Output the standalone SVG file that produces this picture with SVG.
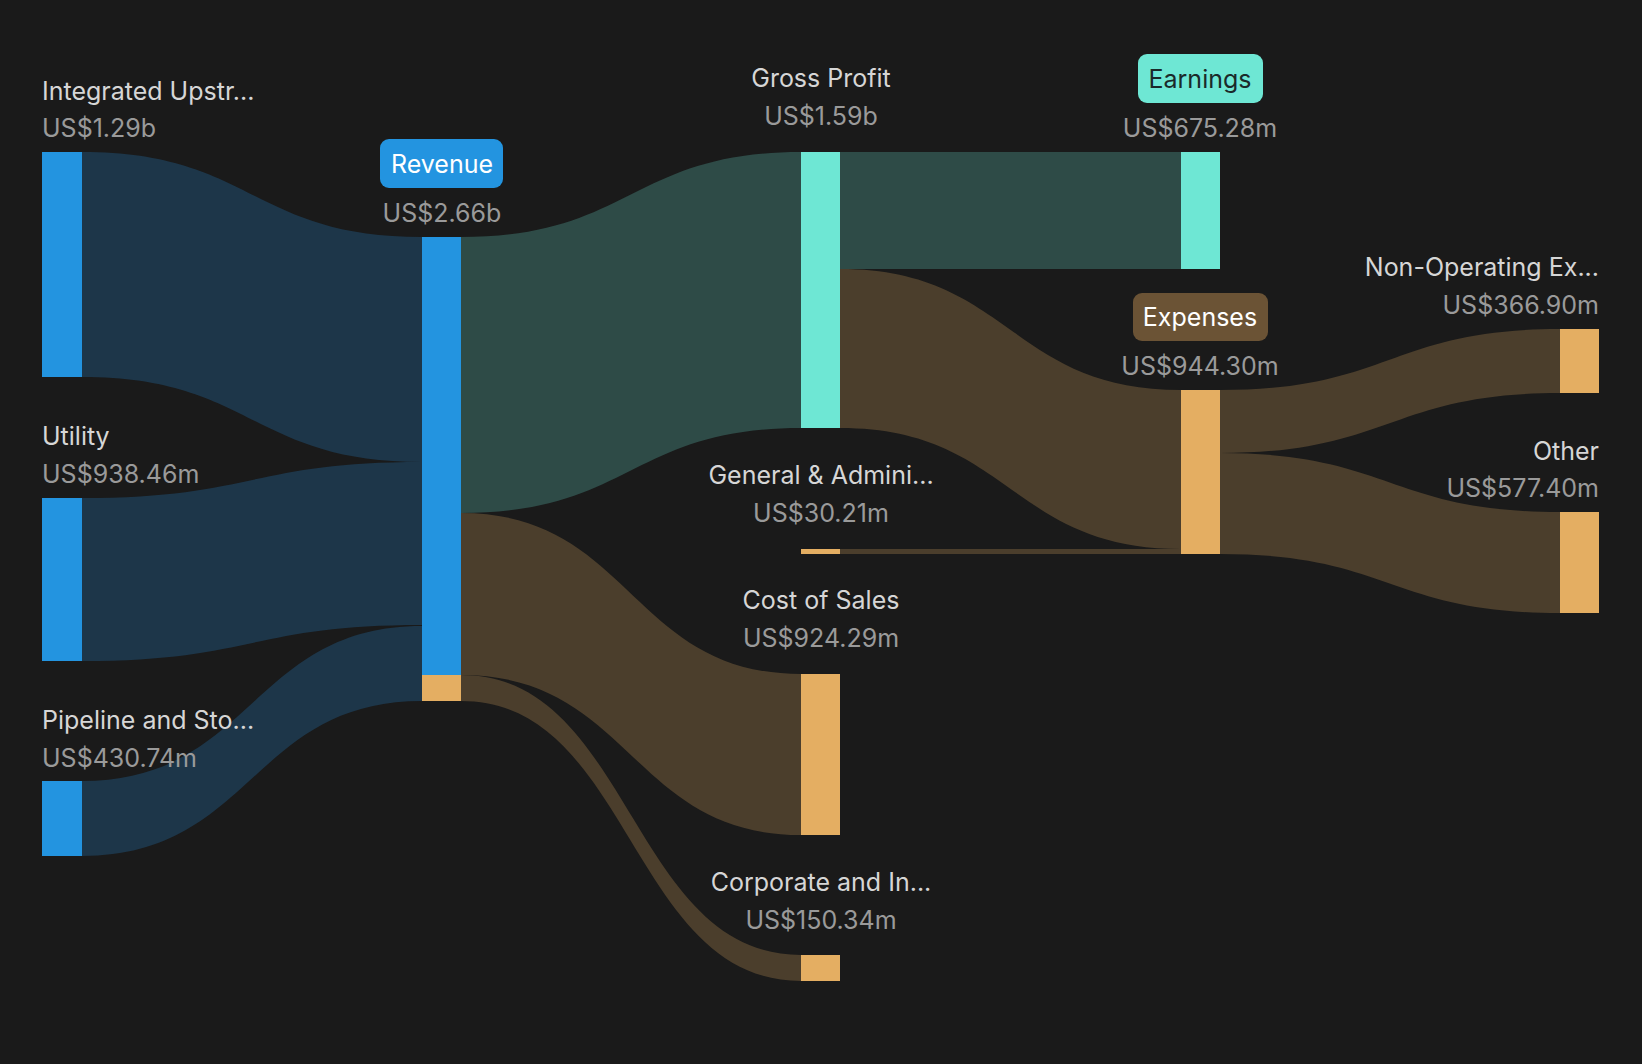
<svg xmlns="http://www.w3.org/2000/svg" width="1642" height="1064" viewBox="0 0 1642 1064">
<style>
text{font-family:Inter,"Liberation Sans",sans-serif;font-size:25px}
.n{fill:#d6d6d6}.v{fill:#9a9a9a}
.m{text-anchor:middle}.e{text-anchor:end}
.lb{fill:#1d3649}.lt{fill:#2e4b47}.lo{fill:#4b3e2c}
.b{fill:#2394e0}.t{fill:#6ee7d4}.o{fill:#e4ae62}
</style>
<rect width="1642" height="1064" fill="#1a1a1a"/>
<g id="links">
<path class="lb" d="M82,152 C252,152 252,237 422,237 L422,462 C252,462 252,377 82,377Z"/>
<path class="lb" d="M82,498 C252,498 252,462 422,462 L422,625 C252,625 252,661 82,661Z"/>
<path class="lb" d="M82,781 C252,781 252,626 422,626 L422,701 C252,701 252,856 82,856Z"/>
<path class="lt" d="M461,237 C631,237 631,152 801,152 L801,428 C631,428 631,513 461,513Z"/>
<path class="lo" d="M461,513 C631,513 631,674 801,674 L801,835 C631,835 631,675 461,675Z"/>
<path class="lo" d="M461,675 C631,675 631,955 801,955 L801,981 C631,981 631,701 461,701Z"/>
<path class="lt" d="M840,152 L1181,152 L1181,269 L840,269Z"/>
<path class="lo" d="M840,269 C1010,269 1010,390 1181,390 L1181,549 C1010,549 1010,428 840,428Z"/>
<path class="lo" d="M840,549 L1181,549 L1181,554 L840,554Z"/>
<path class="lo" d="M1220,390 C1390,390 1390,329 1560,329 L1560,393 C1390,393 1390,453 1220,453Z"/>
<path class="lo" d="M1220,453 C1390,453 1390,512 1560,512 L1560,613 C1390,613 1390,554 1220,554Z"/>
</g>
<g id="integrated"><rect class="b" x="42" y="152" width="40" height="225"/><text class="n" x="42" y="100">Integrated Upstr...</text><text class="v" x="42" y="137">US$1.29b</text></g>
<g id="utility"><rect class="b" x="42" y="498" width="40" height="163"/><text class="n" x="42" y="445">Utility</text><text class="v" x="42" y="483">US$938.46m</text></g>
<g id="pipeline"><rect class="b" x="42" y="781" width="40" height="75"/><text class="n" x="42" y="729">Pipeline and Sto...</text><text class="v" x="42" y="767">US$430.74m</text></g>
<g id="revenue"><rect class="b" x="422" y="237" width="39" height="438"/><rect class="o" x="422" y="675" width="39" height="26"/><rect x="380" y="139" width="123" height="49" rx="9" fill="#2394e0"/><text class="m" x="442" y="173" fill="#ffffff">Revenue</text><text class="v m" x="442" y="222">US$2.66b</text></g>
<g id="grossprofit"><rect class="t" x="801" y="152" width="39" height="276"/><text class="n m" x="821" y="87">Gross Profit</text><text class="v m" x="821" y="125">US$1.59b</text></g>
<g id="ga"><rect class="o" x="801" y="549" width="39" height="5"/><text class="n m" x="821" y="484">General &amp; Admini...</text><text class="v m" x="821" y="522">US$30.21m</text></g>
<g id="cos"><rect class="o" x="801" y="674" width="39" height="161"/><text class="n m" x="821" y="609">Cost of Sales</text><text class="v m" x="821" y="647">US$924.29m</text></g>
<g id="corporate"><rect class="o" x="801" y="955" width="39" height="26"/><text class="n m" x="821" y="891">Corporate and In...</text><text class="v m" x="821" y="929">US$150.34m</text></g>
<g id="earnings"><rect class="t" x="1181" y="152" width="39" height="117"/><rect x="1138" y="54" width="125" height="49" rx="9" fill="#6ee7d4"/><text class="m" x="1200" y="88" fill="#1a2a2a">Earnings</text><text class="v m" x="1200" y="137">US$675.28m</text></g>
<g id="expenses"><rect class="o" x="1181" y="390" width="39" height="164"/><rect x="1133" y="293" width="135" height="48" rx="9" fill="#6b5335"/><text class="m" x="1200" y="326" fill="#ffffff">Expenses</text><text class="v m" x="1200" y="375">US$944.30m</text></g>
<g id="nonop"><rect class="o" x="1560" y="329" width="39" height="64"/><text class="n e" x="1599" y="276">Non-Operating Ex...</text><text class="v e" x="1599" y="314">US$366.90m</text></g>
<g id="other"><rect class="o" x="1560" y="512" width="39" height="101"/><text class="n e" x="1599" y="460">Other</text><text class="v e" x="1599" y="497">US$577.40m</text></g>
</svg>
